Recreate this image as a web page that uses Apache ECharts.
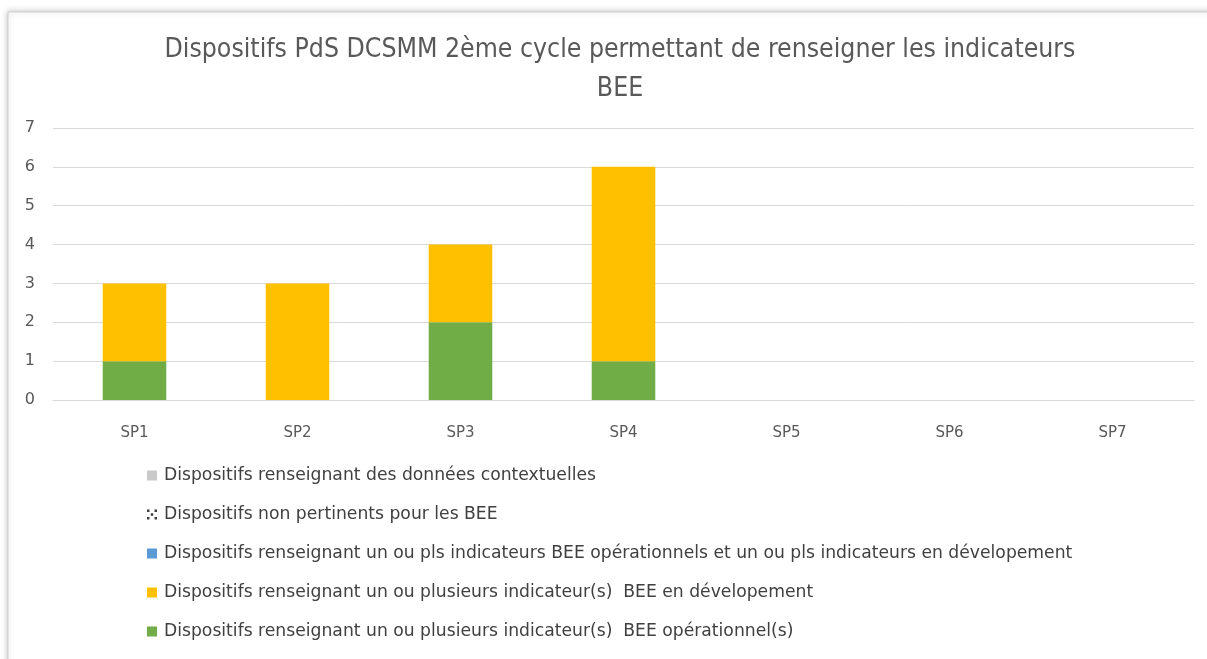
<!DOCTYPE html>
<html><head><meta charset="utf-8">
<script src="https://cdn.jsdelivr.net/npm/echarts@6/dist/echarts.min.js"></script>
<style>html,body{margin:0;padding:0;background:#fff}#c{width:1207px;height:659px}</style>
</head><body><div id="c"></div>
<script>
const categories = ['SP1','SP2','SP3','SP4','SP5','SP6','SP7'];
const seriesNames = [
  'Dispositifs renseignant un ou plusieurs indicateur(s)  BEE opérationnel(s)',
  'Dispositifs renseignant un ou plusieurs indicateur(s)  BEE en dévelopement',
  'Dispositifs renseignant un ou pls indicateurs BEE opérationnels et un ou pls indicateurs en dévelopement',
  'Dispositifs non pertinents pour les BEE',
  'Dispositifs renseignant des données contextuelles'
];
const operationnel = [1,0,2,1,0,0,0];
const developpement = [2,3,2,5,0,0,0];
const mixte = [0,0,0,0,0,0,0];
const nonPertinents = [0,0,0,0,0,0,0];
const contextuelles = [0,0,0,0,0,0,0];
const yTicks = [0,1,2,3,4,5,6,7];
const colors = ['#70ad47','#ffc000','#5b9bd5','#ffffff','#c9c9c9'];
const values = [operationnel, developpement, mixte, nonPertinents, contextuelles];

const dotsIcon = 'path://M0,0h2v2h-2z M6,0h2v2h-2z M3,3h2v2h-2z M0,6h2v2h-2z M6,6h2v2h-2z';

const chart = echarts.init(document.getElementById('c'));
chart.setOption({
  animation:false,
  backgroundColor:'#ffffff',
  graphic:[{type:'rect',z:-10,shape:{x:8,y:12,width:1210,height:660},
    style:{fill:'#ffffff',stroke:'#d0d0d0',lineWidth:1,shadowBlur:6,shadowColor:'rgba(0,0,0,0.25)',shadowOffsetX:0,shadowOffsetY:0}}],
  title:{text:'Dispositifs PdS DCSMM 2ème cycle permettant de renseigner les indicateurs\nBEE',
    left:615, textAlign:'center', top:26,
    textStyle:{fontFamily:'DejaVu Sans Condensed',fontWeight:'normal',fontSize:26.4,color:'#595959',lineHeight:39}},
  grid:{left:53,right:13,top:128,height:272,containLabel:false},
  legend:{orient:'vertical',left:142,top:462,itemGap:22,itemWidth:10,itemHeight:10,icon:'rect',
    data:[
      {name:seriesNames[4]},
      {name:seriesNames[3],icon:dotsIcon,itemStyle:{color:'#404040'}},
      {name:seriesNames[2]},
      {name:seriesNames[1]},
      {name:seriesNames[0]}
    ],
    textStyle:{fontFamily:'DejaVu Sans',fontSize:17.2,color:'#404040',padding:[0,0,0,2]}},
  xAxis:{type:'category',data:categories,
    axisLine:{lineStyle:{color:'#d9d9d9'}},axisTick:{show:false},
    axisLabel:{color:'#595959',fontFamily:'DejaVu Sans',fontSize:15,margin:26}},
  yAxis:{type:'value',min:0,max:7,interval:1,
    axisLine:{show:false},axisTick:{show:false},
    splitLine:{lineStyle:{color:'#d9d9d9'}},
    axisLabel:{color:'#595959',fontFamily:'DejaVu Sans',fontSize:16,margin:18,
      formatter:v=>yTicks.includes(v)?String(v):''}},
  series: values.map((d,i)=>({
    name:seriesNames[i],type:'bar',stack:'total',data:d,barWidth:'39%',
    itemStyle:{color:colors[i]}
  }))
});
</script></body></html>
